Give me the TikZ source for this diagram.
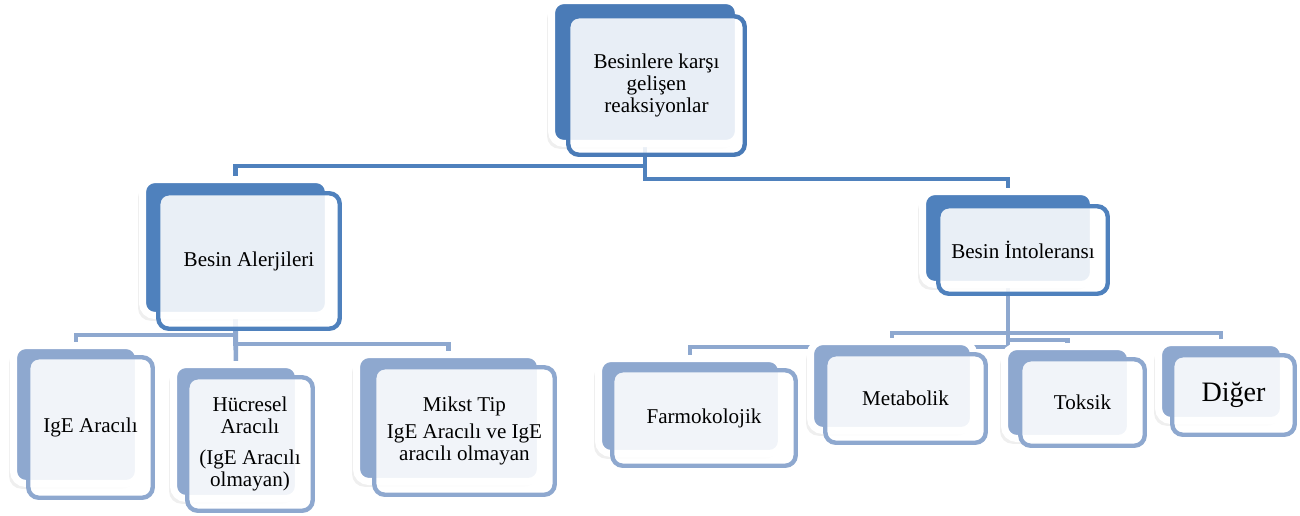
\documentclass[tikz,border=0pt]{standalone}
\usepackage{fontspec}
\setmainfont{Liberation Serif}
\usetikzlibrary{shadows}
\usetikzlibrary{backgrounds}

\definecolor{topblue}{HTML}{4A7BB7}
\definecolor{midblue}{HTML}{4F81BD}
\definecolor{lowblue}{HTML}{8EA8CF}

\tikzset{
  backbox/.style={rectangle, rounded corners=7pt, inner sep=0pt, fill=#1,
    draw=white, line width=4pt,
    drop shadow={shadow xshift=-2.5pt, shadow yshift=-3pt, opacity=.12}},
  frontbox/.style={rectangle, rounded corners=6pt, draw=#1, line width=2.5pt,
    fill=white, fill opacity=.88, text opacity=1, align=center, inner sep=2pt,
    font=\fontsize{12}{12.5}\selectfont},
  link/.style={draw=#1, line width=2.6pt},
}

\begin{document}
\begin{tikzpicture}[x=0.02cm,y=-0.02cm]
  \useasboundingbox (0,0) rectangle (1300,515);

  % top
  \node[backbox=topblue, minimum width=3.74cm, minimum height=2.86cm] (rootb) at (645,72) {};
  \node[frontbox=topblue, minimum width=3.53cm, minimum height=2.77cm] (root) at (656.5,85.5)
    {Besinlere karşı\\gelişen\\reaksiyonlar};

  % second row
  \node[backbox=midblue, minimum width=3.72cm, minimum height=2.72cm] (alerb) at (235.5,247.5) {};
  \node[frontbox=midblue, minimum width=3.63cm, minimum height=2.71cm] (aler) at (249,261)
    {Besin Alerjileri};
  \node[backbox=midblue, minimum width=3.42cm, minimum height=1.86cm] (intob) at (1008,238) {};
  \node[frontbox=midblue, minimum width=3.39cm, minimum height=1.75cm] (into) at (1023,250)
    {Besin İntoleransı};

  % third row, allergies
  \node[backbox=lowblue, minimum width=2.50cm, minimum height=2.76cm] (igeb) at (76,414.5) {};
  \node[frontbox=lowblue, minimum width=2.49cm, minimum height=2.81cm] (ige) at (90.5,427.5)
    {IgE Aracılı};
  \node[backbox=lowblue, minimum width=2.50cm, minimum height=2.68cm] (hucb) at (236,431.5) {};
  \node[frontbox=lowblue, minimum width=2.51cm, minimum height=2.67cm] (huc) at (250,444)
    {Hücresel\\Aracılı\\[5pt](IgE Aracılı\\olmayan)};
  \node[backbox=lowblue, minimum width=3.68cm, minimum height=2.54cm] (mikstb) at (448.5,418) {};
  \node[frontbox=lowblue, minimum width=3.61cm, minimum height=2.55cm] (mikst) at (464.5,431)
    {Mikst Tip\\[3pt]IgE Aracılı ve IgE\\aracılı olmayan};

  % third row, intolerance
  \node[backbox=lowblue, minimum width=3.66cm, minimum height=1.90cm] (farmob) at (690,406) {};
  \node[frontbox=lowblue, minimum width=3.67cm, minimum height=1.91cm] (farmo) at (704,418)
    {Farmokolojik};
  \node[backbox=lowblue, minimum width=3.26cm, minimum height=1.78cm] (metab) at (892,386) {};
  \node[frontbox=lowblue, minimum width=3.21cm, minimum height=1.77cm] (meta) at (905.5,398.5)
    {Metabolik};
  \node[backbox=lowblue, minimum width=2.52cm, minimum height=1.84cm] (toksb) at (1067.5,392.5) {};
  \node[frontbox=lowblue, minimum width=2.49cm, minimum height=1.73cm] (toks) at (1082.5,402.5)
    {Toksik};
  \node[backbox=lowblue, minimum width=2.50cm, minimum height=1.56cm] (digerb) at (1221,381.5) {};
  \node[frontbox=lowblue, minimum width=2.45cm, minimum height=1.59cm, font=\fontsize{16}{18}\selectfont]
    (diger) at (1233.5,395) {Diğer};

  % connectors
  \begin{scope}[on background layer]
    \fill[white] (0,0) rectangle (1300,515);
    \coordinate (r1) at (643,166);
    \coordinate (r2) at (643,179);
    \coordinate (a1) at (235.5,335);
    \coordinate (a2) at (235.5,344);
    \coordinate (i1) at (1008,347);
    \coordinate (i2) at (1008,333);
    \coordinate (i3) at (1008,340);
    \draw[link=midblue] (rootb) |- (r1) -| (alerb);
    \draw[link=midblue] (rootb) |- (r2) -| (intob);
    \draw[link=lowblue] (alerb) |- (a1) -| (igeb);
    \draw[link=lowblue] (alerb) -- (hucb);
    \draw[link=lowblue] (alerb) |- (a2) -| (mikstb);
    \draw[link=lowblue] (intob) |- (i1) -| (farmob);
    \draw[link=lowblue] (intob) |- (i2) -| (metab);
    \draw[link=lowblue] (intob) |- (i3) -| (toksb);
    \draw[link=lowblue] (intob) |- (i2) -| (digerb);
  \end{scope}
\end{tikzpicture}
\end{document}
